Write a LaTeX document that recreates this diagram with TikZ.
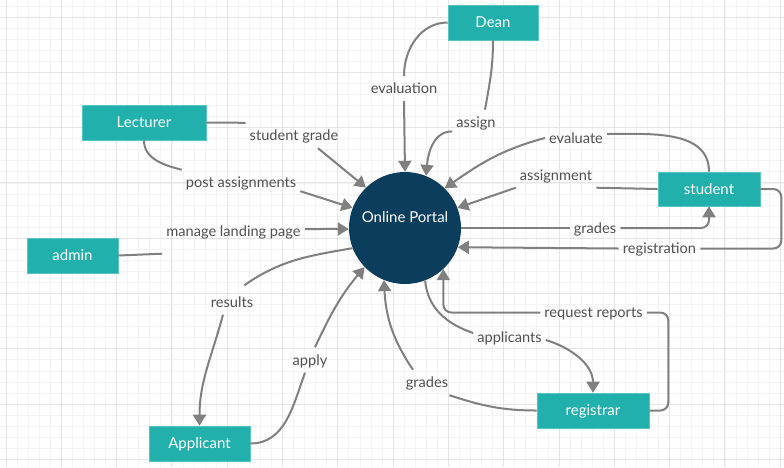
\documentclass[tikz,border=0pt]{standalone}
\usepackage{fontspec}
\setmainfont{Lato}
\usetikzlibrary{arrows.meta,calc}
\definecolor{teal1}{RGB}{34,176,172}
\definecolor{navy1}{RGB}{11,61,92}
\definecolor{edgegray}{RGB}{128,128,128}
\definecolor{labgray}{RGB}{80,80,80}
\definecolor{gridminor}{RGB}{243,243,243}
\definecolor{gridmajor}{RGB}{229,229,229}
\begin{document}
\begin{tikzpicture}[x=1pt,y=1pt,
  entity/.style={fill=teal1, draw=teal1!75!white, line width=0.6pt, text=white,
    inner sep=0pt, font=\fontsize{15}{18}\selectfont, minimum height=35pt,
    text height=10.5pt, text depth=0pt},
  lab/.style={text=labgray, font=\fontsize{14.6}{17}\selectfont, inner xsep=4pt,
    inner ysep=6pt, text height=11.8pt, text depth=1.2pt},
  conn/.style={draw=edgegray, line width=2pt},
  arr/.style={conn, -{Triangle[length=11pt,width=13pt]}},
  gminor/.style={draw=gridminor, line width=0.8pt},
  gmajor/.style={draw=gridmajor, line width=0.9pt},
]
\useasboundingbox (0,0) rectangle (784,-467);
\fill[white] (0,0) rectangle (784,-467);
% grid
\foreach \i in {0,...,70} {\draw[gminor] ({6+11.06*\i},0) -- ({6+11.06*\i},-467);}
\foreach \j in {-1,...,40} {\draw[gminor] (0,{-17-11.06*\j}) -- (784,{-17-11.06*\j});}
\foreach \i in {0,...,14} {\draw[gmajor] ({6+55.3*\i},0) -- ({6+55.3*\i},-467);}
\foreach \j in {0,...,8} {\draw[gmajor] (0,{-17-55.3*\j}) -- (784,{-17-55.3*\j});}

% entities
\node[entity, minimum width=90pt] (dean) at (493,-22.5) {Dean};
\node[entity, minimum width=124pt] (lect) at (144,-122.5) {Lecturer};
\node[entity, minimum width=91pt] (admin) at (72.5,-255.5) {admin};
\node[entity, minimum width=102pt, minimum height=34pt] (stud) at (709,-189) {student};
\node[entity, minimum width=112pt] (regi) at (593,-410.5) {registrar};
\node[entity, minimum width=101pt] (appl) at (199.5,-443.5) {Applicant};
\node[circle, fill=navy1, minimum size=112pt, inner sep=0pt] (P) at (405,-228) {};
\node[text=white, font=\fontsize{15}{18}\selectfont, text height=10.5pt, text depth=0pt, inner sep=0pt] (Ptxt) at (405,-217.5) {Online Portal};

% labels
\node[lab] (evl) at (404,-88.5) {evaluation};
\node[lab] (asg) at (476,-122.4) {assign};
\node[lab] (evt) at (576,-138) {evaluate};
\node[lab] (asn) at (556,-175) {assignment};
\node[lab] (grd) at (595,-228) {grades};
\node[lab] (rgs) at (659.5,-248.5) {registration};
\node[lab] (sgr) at (294,-135.5) {student grade};
\node[lab] (pas) at (241,-182.5) {post assignments};
\node[lab] (mlp) at (233.5,-231) {manage landing page};
\node[lab] (rsl) at (232,-302) {results};
\node[lab] (apl) at (310,-360) {apply};
\node[lab] (grb) at (427,-382.5) {grades};
\node[lab] (apc) at (509.5,-337) {applicants};
\node[lab] (rrp) at (593.5,-312.5) {request reports};

% connectors
\draw[conn] (dean.west) to[out=180,in=90] (evl.north);
\draw[arr] (evl.south) -- (P.90);

\draw[conn] (dean.south) to[out=-90,in=80] ([xshift=9pt]asg.north);
\draw[arr] ([yshift=-9pt]asg.west) to[out=180,in=85] (P.68);

\draw[conn] (stud.north) to[out=90,in=0] ([yshift=4pt]evt.east);
\draw[arr] (evt.west) to[out=195,in=35] (P.45);

\draw[conn] (stud.west) -- (asn.south east);
\draw[arr] (asn.south west) -- (P.21);

\draw[conn] (P.0) -- (grd.west);
\draw[arr, rounded corners=8pt] (grd.east) -| (stud.south);

\draw[conn, rounded corners=8pt] (stud.east) -- ++(21,0) |- (rgs.east);
\draw[arr] (rgs.west) -- (P.-20);

\draw[conn] (lect.east) -- (sgr.north west);
\draw[arr] ([xshift=24pt]sgr.south) -- (P.134);

\draw[conn] (lect.south) to[out=-90,in=165] (pas.north west);
\draw[arr] ([yshift=4pt]pas.south east) -- (P.159);

\draw[conn] (admin.east) -- ([yshift=-10pt]mlp.south west);
\draw[arr] ([yshift=2pt]mlp.east) -- (P.181);

\draw[conn] (P.201) to[out=190,in=35] ([xshift=-13pt,yshift=4pt]rsl.north east);
\draw[arr] ([xshift=-9pt]rsl.south) to[out=-105,in=90] (appl.north);

\draw[conn] (appl.east) to[out=0,in=-110] ([xshift=-5pt]apl.south);
\draw[arr] ([xshift=5pt]apl.north) to[out=65,in=230] (P.224);

\draw[conn] (regi.west) to[out=180,in=-18] ([xshift=-3pt]grb.south east);
\draw[arr] ([xshift=-14pt]grb.north) to[out=124,in=-87] (P.-112);

\draw[conn] (P.-69) to[out=-85,in=161] ([yshift=4pt]apc.west);
\draw[arr] ([yshift=-3pt]apc.east) to[out=-17,in=90] (regi.north);

\draw[conn, rounded corners=8pt] (regi.east) -- ++(19,0) |- (rrp.east);
\draw[arr, rounded corners=8pt] (rrp.west) -| (P.-47);
\end{tikzpicture}
\end{document}
